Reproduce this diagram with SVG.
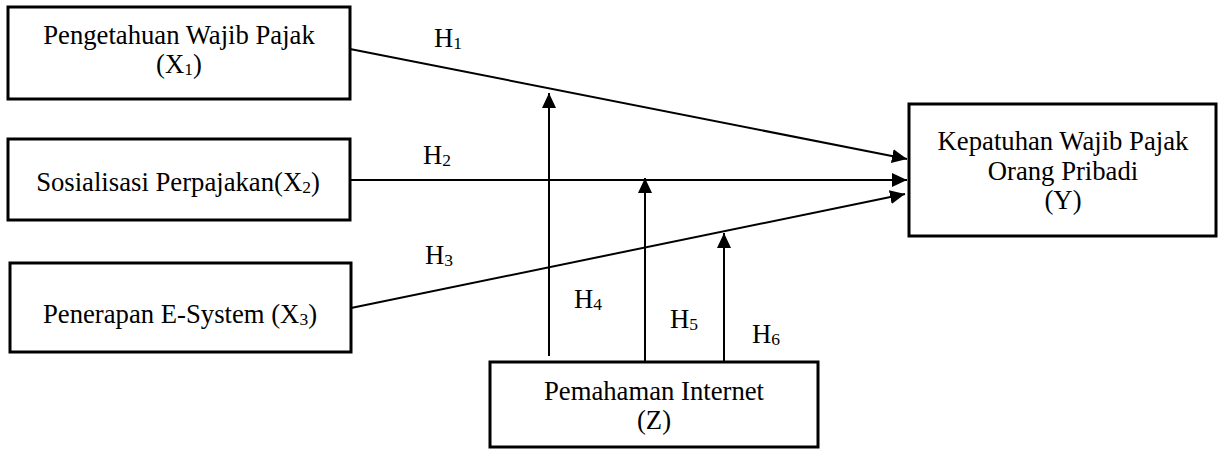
<svg xmlns="http://www.w3.org/2000/svg" width="1219" height="449" viewBox="0 0 1219 449">
<style>
.box{fill:#fff;stroke:#000;stroke-width:3}
.t{font-family:"Liberation Serif","Times New Roman",serif;font-size:26.7px;fill:#000;text-anchor:middle}
.h{font-family:"Liberation Serif","Times New Roman",serif;font-size:26.7px;fill:#000}
.sub{font-size:17.5px}
.ln{stroke:#000;stroke-width:2;fill:none}
</style>
<defs>
<marker id="arr" markerUnits="userSpaceOnUse" markerWidth="16" markerHeight="14" refX="15" refY="7" orient="auto">
<path d="M0,0 L15,7 L0,14 z" fill="#000"/>
</marker>
</defs>
<g id="connectors">
<line class="ln" x1="350" y1="49" x2="907" y2="159" marker-end="url(#arr)"/>
<line class="ln" x1="350" y1="180" x2="907" y2="180" marker-end="url(#arr)"/>
<line class="ln" x1="351" y1="308" x2="905" y2="194" marker-end="url(#arr)"/>
<line class="ln" x1="549" y1="356" x2="549" y2="93" marker-end="url(#arr)"/>
<line class="ln" x1="645" y1="362" x2="645" y2="178" marker-end="url(#arr)"/>
<line class="ln" x1="724" y1="362" x2="724" y2="233" marker-end="url(#arr)"/>
<text class="h" x="434" y="47">H<tspan class="sub" dy="2">1</tspan></text>
<text class="h" x="423" y="164">H<tspan class="sub" dy="2">2</tspan></text>
<text class="h" x="425" y="264">H<tspan class="sub" dy="2">3</tspan></text>
<text class="h" x="574" y="308">H<tspan class="sub" dy="2">4</tspan></text>
<text class="h" x="670" y="328">H<tspan class="sub" dy="2">5</tspan></text>
<text class="h" x="752" y="343">H<tspan class="sub" dy="2">6</tspan></text>
</g>
<g id="x1">
<rect class="box" x="8" y="7" width="342" height="92"/>
<text class="t" x="179" y="44">Pengetahuan Wajib Pajak</text>
<text class="t" x="179" y="73">(X<tspan class="sub" dy="2">1</tspan><tspan dy="-2">)</tspan></text>
</g>
<g id="x2">
<rect class="box" x="8" y="139" width="342" height="81"/>
<text class="t" x="178" y="191">Sosialisasi Perpajakan(X<tspan class="sub" dy="2">2</tspan><tspan dy="-2">)</tspan></text>
</g>
<g id="x3">
<rect class="box" x="10" y="263" width="341" height="89"/>
<text class="t" x="180" y="323">Penerapan E-System (X<tspan class="sub" dy="2">3</tspan><tspan dy="-2">)</tspan></text>
</g>
<g id="y">
<rect class="box" x="909" y="104" width="307" height="132"/>
<text class="t" x="1063" y="150">Kepatuhan Wajib Pajak</text>
<text class="t" x="1063" y="180">Orang Pribadi</text>
<text class="t" x="1063" y="209">(Y)</text>
</g>
<g id="z">
<rect class="box" x="490" y="362" width="328" height="85"/>
<text class="t" x="654" y="400">Pemahaman Internet</text>
<text class="t" x="654" y="429">(Z)</text>
</g>
</svg>
